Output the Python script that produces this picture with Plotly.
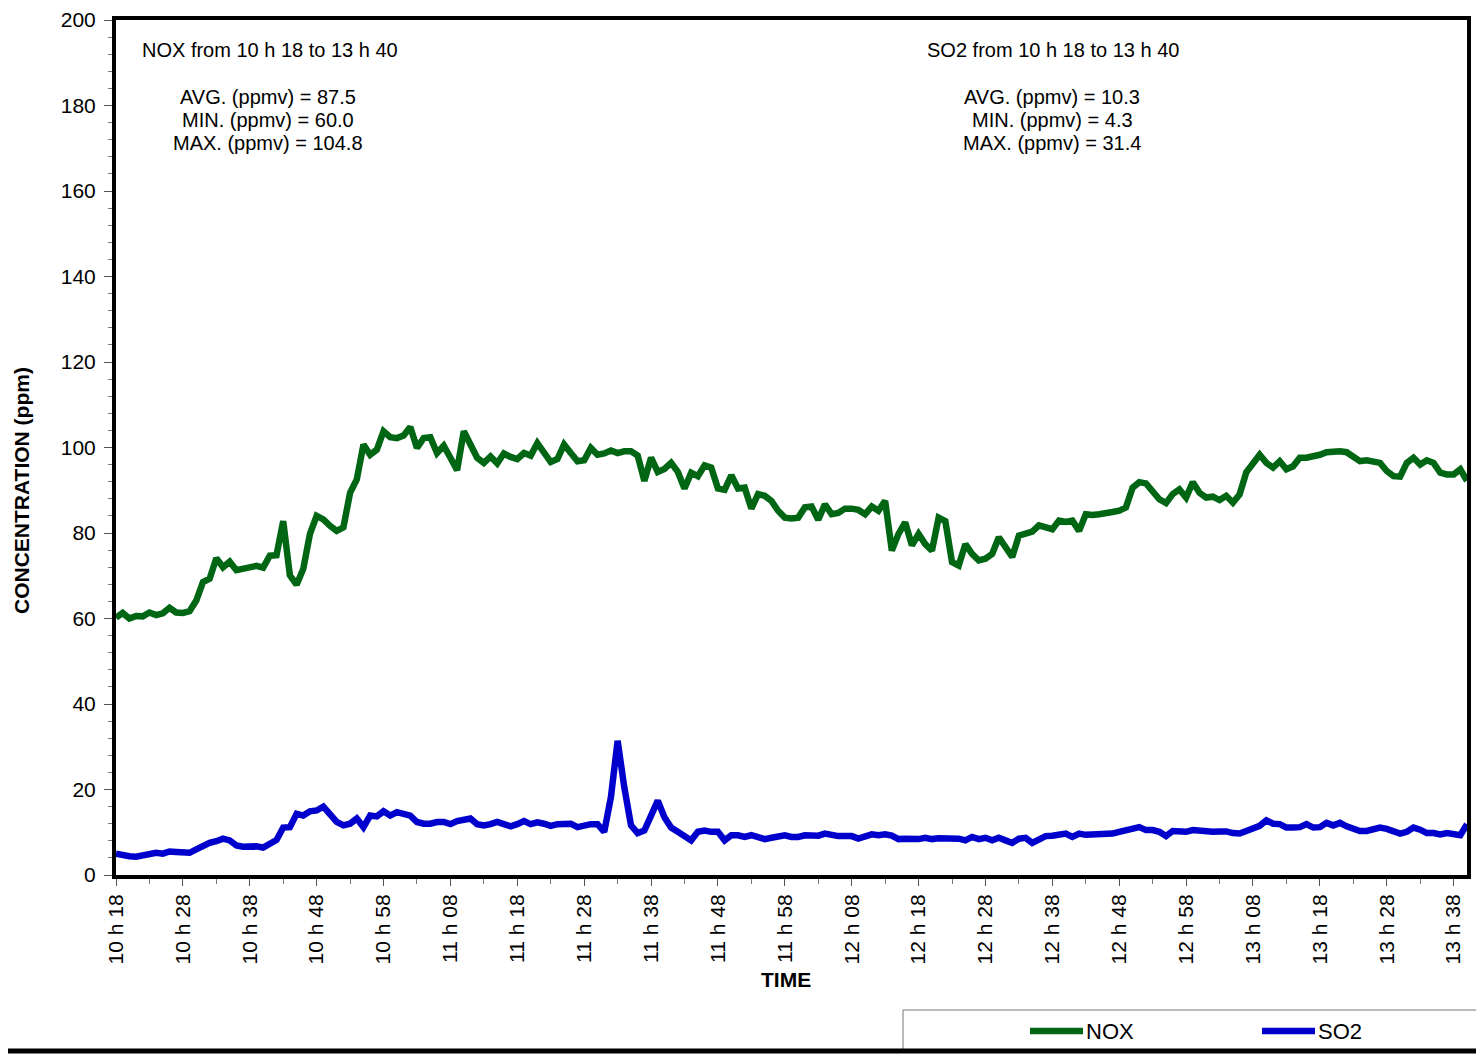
import pandas as pd
import plotly.graph_objects as go

start = "2000-01-01 10:18"
end = "2000-01-01 13:40"

nox = [60.2, 61.3, 60.0, 60.6, 60.5, 61.4, 60.8, 61.2, 62.5, 61.4, 61.3, 61.7, 64.2, 68.5, 69.3, 74.1, 72.0,
       73.3, 71.3, 71.6, 71.9, 72.3, 71.9, 74.7, 74.8, 82.8, 70.1, 67.9, 71.6, 79.8, 84.0, 83.2, 81.7, 80.5,
       81.3, 89.4, 92.5, 100.7, 98.3, 99.5, 103.8, 102.4, 102.2, 102.8, 104.8, 99.9, 102.2, 102.4, 98.7,
       100.4, 97.6, 94.7, 103.8, 101.0, 97.6, 96.4, 97.9, 96.3, 98.6, 97.8, 97.3, 98.7, 98.1, 101.0, 98.7,
       96.6, 97.3,
       100.7, 98.7, 96.8, 97.0, 99.9, 98.3, 98.6, 99.3, 98.7, 99.1, 99.1, 98.1, 92.2, 97.6, 94.3, 95.0, 96.4,
       94.3, 90.4, 94.1, 93.3, 95.8, 95.3, 90.4, 90.1, 93.5, 90.4, 90.6, 85.7, 89.1, 88.7, 87.5, 85.2, 83.6,
       83.4, 83.6, 86.0, 86.2, 83.1, 86.7, 84.4, 84.7, 85.7, 85.7, 85.4, 84.4, 86.2, 85.2, 87.5, 75.9, 79.8,
       82.5, 77.1, 79.8, 77.4, 75.9, 83.6, 82.8, 73.2, 72.4, 77.4, 75.1, 73.6, 74.0, 75.1, 79.0, 76.7, 74.4,
       79.4, 80.0, 80.3, 81.8, 81.5, 80.9, 82.9, 82.6, 82.9, 80.5, 84.4, 84.2, 84.4, 84.8, 84.9, 85.2, 86.0,
       90.6, 91.9, 91.6, 89.6, 87.9, 87.0, 89.1, 90.2, 88.3, 91.9, 89.4, 88.3, 88.5, 87.7, 88.7, 87.1,
       89.0,
       94.2, 96.0, 98.3, 96.4, 95.3, 96.8, 94.9, 95.6, 97.6, 97.6, 97.8, 98.3, 98.9, 99.1, 99.1, 98.9, 97.9,
       96.8, 97.0, 96.6, 96.4, 94.5, 93.3, 93.2, 96.4, 97.6, 96.0, 97.0, 96.4, 94.1, 93.7, 93.7, 94.9, 92.2]

so2 = [5.0, 4.6, 4.4, 4.3, 4.6, 4.8, 5.2, 5.0, 5.5, 5.4, 5.2, 5.2, 6.0, 6.9, 7.5, 7.9, 8.5, 8.1, 6.9, 6.6,
       6.7, 6.7, 6.4, 7.3, 8.2, 11.1, 11.2, 14.3, 13.9, 14.9, 15.1, 16.0, 14.2, 12.4, 11.6, 12.0, 13.2, 11.2,
       13.9, 13.7, 14.9, 13.9, 14.7, 14.2, 13.9, 12.4, 12.0, 12.0, 12.4, 12.4, 11.9, 12.6,
       12.9, 13.2, 11.9, 11.6, 11.9, 12.4, 11.9, 11.4, 11.9, 12.6, 11.9, 12.3, 12.0, 11.5, 11.9, 12.0, 12.0,
       11.2, 11.6, 11.9, 11.9, 10.1, 18.2, 31.4, 20.5, 11.6, 9.8, 10.4, 13.9, 17.4, 13.5, 11.1, 10.1, 9.1,
       8.1, 10.1, 10.4, 10.1, 10.1, 8.1, 9.3, 9.3, 8.9, 9.3, 8.7, 8.4, 8.7, 9.0, 9.3, 8.9, 8.9, 9.3,
       9.1, 9.2, 9.7, 9.3, 9.1, 9.1, 9.1, 8.5, 9.2, 9.5, 9.3, 9.5, 9.2, 8.4, 8.5, 8.4, 8.4, 8.7, 8.4, 8.6,
       8.6, 8.6, 8.5, 8.1, 8.9, 8.4, 8.7, 8.1, 8.7, 8.1, 7.5, 8.5, 8.7, 7.5, 8.5, 9.1, 9.2, 9.5, 9.7, 8.9,
       9.7, 9.4, 9.4, 9.4, 9.4, 9.7, 10.1, 10.5, 10.8, 11.2, 10.5,
       10.5, 10.1, 9.1, 10.3, 10.1, 10.1, 10.5, 10.3, 10.1, 10.1, 10.2, 10.2, 9.8, 9.7, 10.3, 11.1, 11.5,
       12.8, 12.0, 11.9, 11.1, 11.1, 11.2, 11.9, 11.1, 11.2, 12.2, 11.6, 12.2, 11.4, 10.8, 10.3, 10.3, 10.6,
       11.1, 10.8, 10.1, 9.7, 10.1, 11.1, 10.6, 9.8, 9.8, 9.5, 9.8, 9.7, 9.3, 11.9]

stats_nox = ["NOX from 10 h 18 to 13 h 40", "AVG. (ppmv) = 87.5", "MIN. (ppmv) = 60.0", "MAX. (ppmv) = 104.8"]
stats_so2 = ["SO2 from 10 h 18 to 13 h 40", "AVG. (ppmv) = 10.3", "MIN. (ppmv) = 4.3", "MAX. (ppmv) = 31.4"]

series = [("NOX", nox, "#006614"), ("SO2", so2, "#0000CC")]

times = pd.date_range(start, periods=max(len(nox), len(so2)), freq="min")

FONT = "Liberation Sans, Arial, sans-serif"
PAGE = 8                                  # default body margin of the html page
W, H = 1484 - PAGE, 1057 - PAGE
L, R, T, B = 116, 1467, 20, 875           # plot area, screen pixels
PW, PH = R - L, B - T


def px(x):
    return (x - L) / PW


def py(y):
    return (B - y) / PH


fig = go.Figure()
for name, vals, color in series:
    fig.add_trace(go.Scatter(x=times[:len(vals)], y=vals, name=name, mode="lines",
                             line=dict(color=color, width=6.5)))

fig.update_layout(
    width=W, height=H,
    plot_bgcolor="white", paper_bgcolor="white",
    margin=dict(l=L - PAGE, r=W - (R - PAGE), t=T - PAGE, b=H - (B - PAGE), autoexpand=False),
    font=dict(family=FONT, color="black", size=20),
    showlegend=False,
)

fig.update_xaxes(
    range=[start, end], type="date", automargin=False, ticklabeloverflow="allow",
    tick0=start, dtick=600000, tickformat="%H h %M", tickangle=-90,
    ticks="outside", ticklen=7, tickcolor="#555555", tickwidth=1,
    minor=dict(dtick=300000, tick0=start, ticks="outside", ticklen=5, tickcolor="#777777"),
    showline=True, linecolor="black", linewidth=4, mirror=True,
    showgrid=False, tickfont=dict(size=21), zeroline=False,
)
fig.update_yaxes(
    range=[0, 200], dtick=20, automargin=False, ticklabeloverflow="allow",
    ticks="outside", ticklen=8, tickcolor="#555555", tickwidth=1,
    minor=dict(dtick=4, ticks="outside", ticklen=4, tickcolor="#777777"),
    showline=True, linecolor="black", linewidth=4, mirror=True,
    showgrid=False, tickfont=dict(size=21), zeroline=False,
    ticklabelstandoff=4,
)

# stats text blocks
for left_x, mid_x, lines in [(140, 268, stats_nox), (925, 1052, stats_so2)]:
    fig.add_annotation(xref="paper", yref="paper", x=px(left_x), y=py(50),
                       text=lines[0], showarrow=False, xanchor="left", yanchor="middle")
    for k, line in enumerate(lines[1:]):
        fig.add_annotation(xref="paper", yref="paper", x=px(mid_x), y=py(97 + 23 * k),
                           text=line, showarrow=False, xanchor="center", yanchor="middle")

# axis titles
fig.add_annotation(xref="paper", yref="paper", x=px(786), y=py(979),
                   text="<b>TIME</b>", showarrow=False, xanchor="center", yanchor="middle",
                   font=dict(size=21))
fig.add_annotation(xref="paper", yref="paper", x=px(22), y=py(491),
                   text="<b>CONCENTRATION (ppm)</b>", textangle=-90, showarrow=False,
                   xanchor="center", yanchor="middle", font=dict(size=21))

# legend box drawn below the plot
fig.add_shape(type="rect", xref="paper", yref="paper", x0=px(903), x1=px(1500),
              y0=py(1052), y1=py(1010), line=dict(color="#777777", width=1), fillcolor="white")
for (name, vals, color), lx in zip(series, [1030, 1262]):
    fig.add_shape(type="line", xref="paper", yref="paper", x0=px(lx), x1=px(lx + 53),
                  y0=py(1031), y1=py(1031), line=dict(color=color, width=6.5))
    fig.add_annotation(xref="paper", yref="paper", x=px(lx + 54), y=py(1031), text=name,
                       showarrow=False, xanchor="left", yanchor="middle", font=dict(size=22))

# chart-area border at the bottom of the page
fig.add_shape(type="line", xref="paper", yref="paper", x0=px(-10), x1=px(1500),
              y0=py(1051), y1=py(1051), line=dict(color="black", width=5))

fig.write_html("out.html")
